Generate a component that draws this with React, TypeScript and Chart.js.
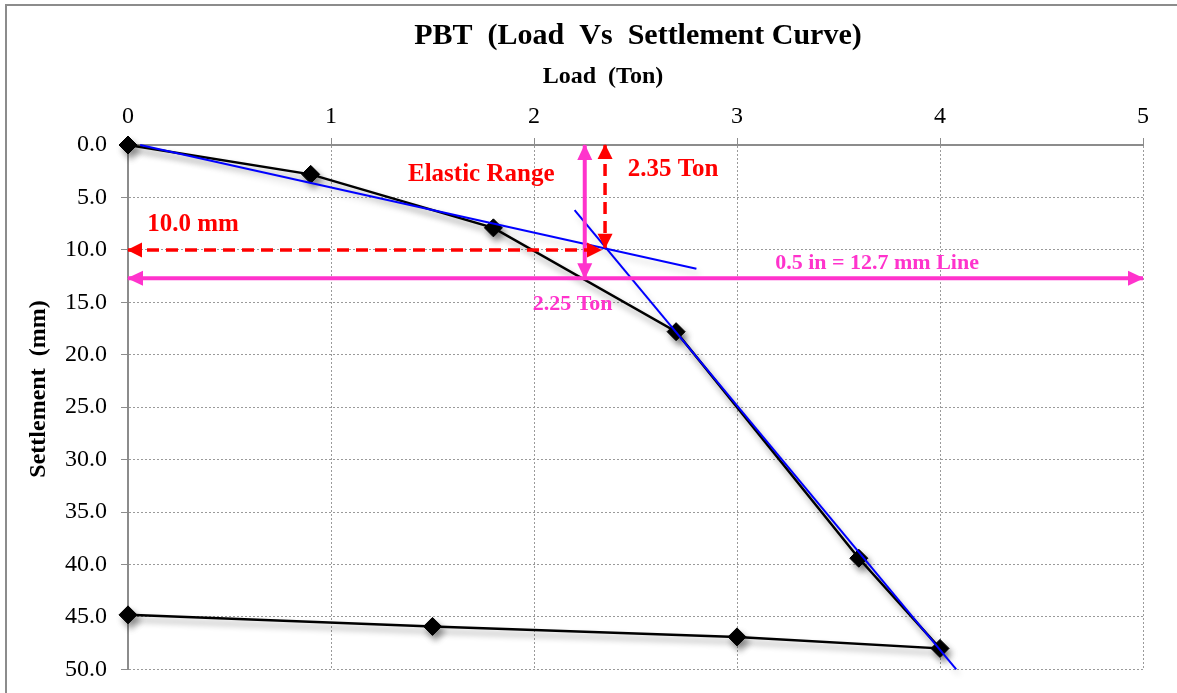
import { useEffect, useRef } from "react";
import { Chart, registerables } from "chart.js";

Chart.register(...registerables);

// ---- data ----
const loadTon = [0, 0.9, 1.8, 2.7, 3.6, 4.0, 3.0, 1.5, 0];
const settlementMm = [0, 2.8, 7.9, 17.8, 39.4, 48.0, 46.9, 45.9, 44.8];

const elasticTangentLoad = [0.06, 2.8];
const elasticTangentSettle = [0, 11.8];
const plasticTangentLoad = [2.2, 4.08];
const plasticTangentSettle = [6.2, 50];

const limitArrowLoad = [0, 5];
const limitArrowSettle = [12.7, 12.7];
const pinkVertLoad = [2.25, 2.25];
const pinkVertSettle = [0, 12.7];
const redVertLoad = [2.35, 2.35];
const redVertSettle = [0, 9.8];
const redHorzLoad = [0, 2.33];
const redHorzSettle = [10, 10];

const xTickValues = [0, 1, 2, 3, 4, 5];
const xTickLabels = ["0", "1", "2", "3", "4", "5"];
const yTickValues = [0, 5, 10, 15, 20, 25, 30, 35, 40, 45, 50];
const yTickLabels = ["0.0", "5.0", "10.0", "15.0", "20.0", "25.0", "30.0", "35.0", "40.0", "45.0", "50.0"];

const RED = "#FF0000";
const PINK = "#FF33CC";
const BLUE = "#0000FF";
const FONT = "'Liberation Serif', 'Times New Roman', serif";

const noteTexts = ["Elastic Range", "2.35 Ton", "10.0 mm", "2.25 Ton", "0.5 in = 12.7 mm Line"];
const noteLoad = [1.74, 2.685, 0.32, 2.19, 3.69];
const noteSettle = [2.8, 2.3, 7.57, 15.2, 11.3];
const noteColors = [RED, RED, RED, PINK, PINK];
const noteSizes = [25, 25, 25, 22, 22];

const pts = (xs: number[], ys: number[]) => xs.map((x, i) => ({ x, y: ys[i] }));
const labelFor = (vals: number[], labels: string[], v: number) => {
  const i = vals.findIndex((t) => Math.abs(t - v) < 1e-6);
  return i >= 0 ? labels[i] : "";
};

const decorPlugin = {
  id: "decor",
  beforeDraw(chart: any) {
    const ctx = chart.ctx;
    ctx.save();
    ctx.fillStyle = "#ffffff";
    ctx.fillRect(0, 0, chart.width, chart.height);
    ctx.strokeStyle = "#8c8c8c";
    ctx.lineWidth = 2;
    ctx.strokeRect(6, 5, chart.width + 40, chart.height + 40);
    ctx.restore();
  },
  beforeDatasetDraw(chart: any, args: any) {
    const ds = chart.data.datasets[args.index];
    if (ds.shadowColor) {
      const ctx = chart.ctx;
      ctx.save();
      ctx.shadowColor = ds.shadowColor;
      ctx.shadowBlur = 6;
      ctx.shadowOffsetX = 3;
      ctx.shadowOffsetY = 5;
    }
  },
  afterDatasetDraw(chart: any, args: any) {
    const ds = chart.data.datasets[args.index];
    if (ds.shadowColor) chart.ctx.restore();
  },
  afterDatasetsDraw(chart: any) {
    const ctx = chart.ctx;
    chart.data.datasets.forEach((ds: any, i: number) => {
      if (!ds.arrowHead) return;
      const meta = chart.getDatasetMeta(i);
      const a = meta.data[0];
      const b = meta.data[meta.data.length - 1];
      const [L, W] = ds.arrowHead;
      const head = (tip: any, from: any) => {
        const dx = tip.x - from.x;
        const dy = tip.y - from.y;
        const len = Math.hypot(dx, dy) || 1;
        const ux = dx / len;
        const uy = dy / len;
        const bx = tip.x - ux * L;
        const by = tip.y - uy * L;
        ctx.beginPath();
        ctx.moveTo(tip.x + ux * 1, tip.y + uy * 1);
        ctx.lineTo(bx - uy * W / 2, by + ux * W / 2);
        ctx.lineTo(bx + uy * W / 2, by - ux * W / 2);
        ctx.closePath();
        ctx.fill();
      };
      ctx.save();
      ctx.fillStyle = ds.borderColor;
      head(a, b);
      head(b, a);
      ctx.restore();
    });
    const xs = chart.scales.x;
    const ys = chart.scales.y;
    ctx.save();
    ctx.textAlign = "center";
    ctx.textBaseline = "middle";
    noteTexts.forEach((t, i) => {
      ctx.font = `bold ${noteSizes[i]}px ${FONT}`;
      ctx.fillStyle = noteColors[i];
      ctx.fillText(t, xs.getPixelForValue(noteLoad[i]), ys.getPixelForValue(noteSettle[i]));
    });
    ctx.restore();
  },
  afterDraw(chart: any) {
    const ctx = chart.ctx;
    ctx.save();
    ctx.fillStyle = "#000";
    ctx.textAlign = "center";
    ctx.textBaseline = "middle";
    ctx.font = `bold 30px ${FONT}`;
    ctx.fillText("PBT  (Load  Vs  Settlement Curve)", 638, 36);
    ctx.font = `bold 24px ${FONT}`;
    ctx.fillText("Load  (Ton)", 603, 77);
    ctx.translate(39, 389);
    ctx.rotate(-Math.PI / 2);
    ctx.fillText("Settlement  (mm)", 0, 0);
    ctx.restore();
  },
};

export default function App() {
  const ref = useRef<HTMLCanvasElement>(null);

  useEffect(() => {
    if (!ref.current) return;
    Chart.defaults.font.family = FONT;
    const lineDs = (label: string, xs: number[], ys: number[], color: string, width: number, order: number, extra: any = {}) => ({
      label,
      data: pts(xs, ys),
      showLine: true,
      borderColor: color,
      backgroundColor: color,
      borderWidth: width,
      pointRadius: 0,
      pointHoverRadius: 0,
      clip: false,
      order,
      ...extra,
    });
    const chart = new Chart(ref.current, {
      type: "scatter",
      data: {
        datasets: [
          lineDs("Limit 12.7 mm", limitArrowLoad, limitArrowSettle, PINK, 4, 2, { arrowHead: [15, 15] }),
          lineDs("2.25 Ton", pinkVertLoad, pinkVertSettle, PINK, 4, 2, { arrowHead: [15, 15] }),
          lineDs("2.35 Ton", redVertLoad, redVertSettle, RED, 3.5, 1, { arrowHead: [14, 15], borderDash: [12, 7] }),
          lineDs("10 mm", redHorzLoad, redHorzSettle, RED, 3.5, 1, { arrowHead: [14, 15], borderDash: [12, 7] }),
          lineDs("Elastic tangent", elasticTangentLoad, elasticTangentSettle, BLUE, 2, 3, { shadowColor: "rgba(0,0,0,0.18)" }),
          lineDs("Plastic tangent", plasticTangentLoad, plasticTangentSettle, BLUE, 2, 3, { shadowColor: "rgba(0,0,0,0.18)" }),
          {
            label: "Load vs Settlement",
            data: pts(loadTon, settlementMm),
            showLine: true,
            borderColor: "#000",
            backgroundColor: "#000",
            borderWidth: 2.5,
            pointStyle: "rectRot",
            pointRadius: 9,
            pointHoverRadius: 9,
            pointBorderWidth: 1,
            pointBorderColor: "#000",
            clip: false,
            order: 4,
            shadowColor: "rgba(0,0,0,0.4)",
          } as any,
        ] as any,
      },
      options: {
        animation: false,
        responsive: false,
        devicePixelRatio: 1,
        layout: { padding: { left: 0, top: 0, right: 34, bottom: 10 } },
        plugins: { legend: { display: false }, tooltip: { enabled: false }, title: { display: false } },
        events: [],
        scales: {
          x: {
            type: "linear",
            position: "top",
            min: 0,
            max: 5,
            afterFit: (s: any) => { s.height = 145; },
            ticks: {
              stepSize: 1,
              padding: 7,
              color: "#000",
              font: { size: 24, family: FONT },
              callback: (v: any) => labelFor(xTickValues, xTickLabels, Number(v)),
            },
            grid: { color: "#9a9a9a", lineWidth: 1, tickLength: 7, tickColor: "#8c8c8c", tickWidth: 1, tickBorderDash: [] },
            border: { display: true, color: "#8c8c8c", width: 2, dash: [2, 2] },
          },
          y: {
            type: "linear",
            position: "left",
            reverse: true,
            min: 0,
            max: 50,
            afterFit: (s: any) => { s.width = 128; },
            ticks: {
              stepSize: 5,
              padding: 14,
              color: "#000",
              font: { size: 24, family: FONT, lineHeight: 0.8 },
              callback: (v: any) => labelFor(yTickValues, yTickLabels, Number(v)),
            },
            grid: { color: "#9a9a9a", lineWidth: 1, tickLength: 7, tickColor: "#8c8c8c", tickWidth: 1, tickBorderDash: [] },
            border: { display: true, color: "#8c8c8c", width: 2, dash: [2, 2] },
          },
        },
      } as any,
      plugins: [decorPlugin],
    });
    return () => chart.destroy();
  }, []);

  return (
    <div style={{ position: "absolute", left: 0, top: 0, width: 1177, height: 693 }}>
      <canvas ref={ref} width={1177} height={693} style={{ width: 1177, height: 693, display: "block" }} />
    </div>
  );
}
